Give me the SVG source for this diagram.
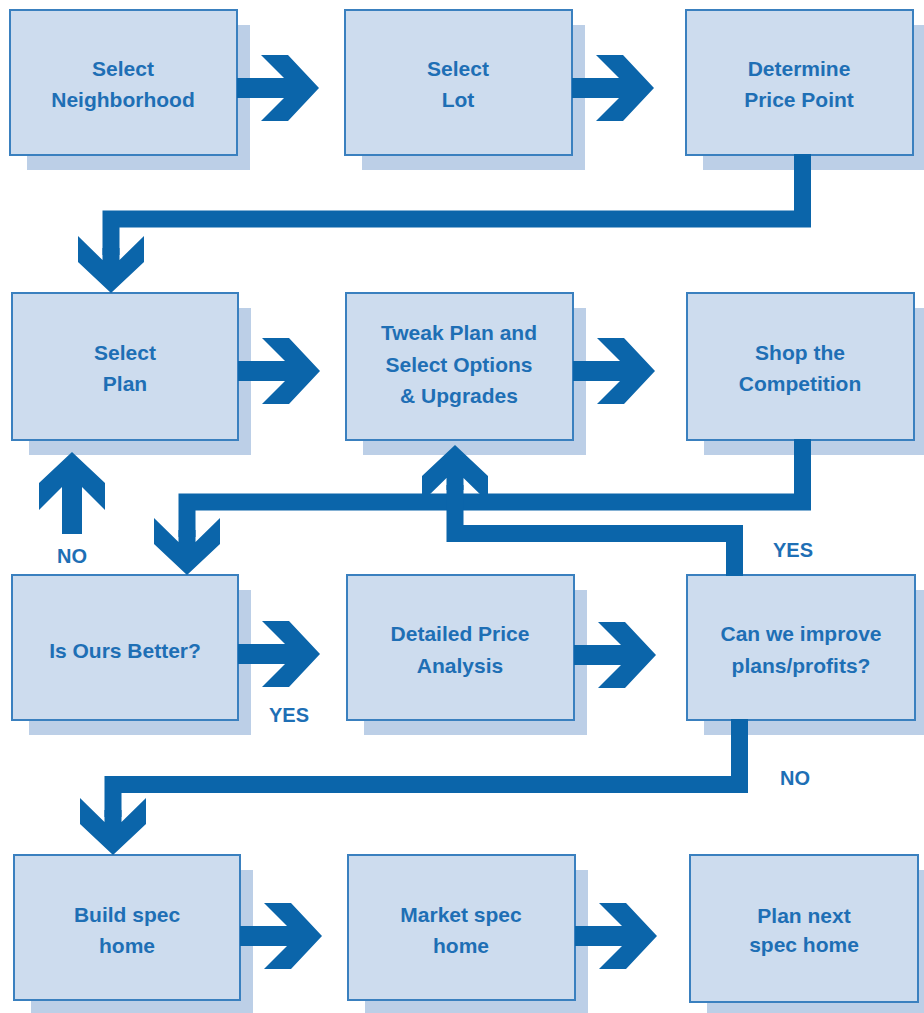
<svg xmlns="http://www.w3.org/2000/svg" xmlns:xlink="http://www.w3.org/1999/xlink" width="924" height="1013" viewBox="0 0 924 1013">
<defs>
<style>
.shadow{fill:#bccfe7}
.box{fill:#cddcee;stroke:#3a80bf;stroke-width:2}
.t{font-family:"Liberation Sans",Arial,sans-serif;font-weight:bold;font-size:21px;fill:#1e6fb5;text-anchor:middle}
.lbl{font-family:"Liberation Sans",Arial,sans-serif;font-weight:bold;font-size:20px;fill:#1e6fb5;text-anchor:middle}
.line{fill:none;stroke:#0b65aa;stroke-width:17;stroke-linejoin:miter;stroke-linecap:butt}
.ar{fill:#0b65aa}
</style>
<path id="arrowR" d="M0,0 L-31,33 L-58,33 L-35,10 L-82,10 L-82,-10 L-35,-10 L-58,-33 L-31,-33 Z"/>
<path id="head" d="M0,0 L-31,33 L-57,33 L-33,8.5 L-45,8.5 L-45,-8.5 L-33,-8.5 L-57,-33 L-31,-33 Z"/>
</defs>
<rect width="924" height="1013" fill="#ffffff"/>

<g id="n1"><rect class="shadow" x="27" y="25" width="223" height="145"/><rect class="box" x="10" y="10" width="227" height="145"/><text class="t" x="123" y="76">Select</text><text class="t" x="123" y="107">Neighborhood</text></g>
<g id="n2"><rect class="shadow" x="362" y="25" width="223" height="145"/><rect class="box" x="345" y="10" width="227" height="145"/><text class="t" x="458" y="76">Select</text><text class="t" x="458" y="107">Lot</text></g>
<g id="n3"><rect class="shadow" x="703" y="25" width="223" height="145"/><rect class="box" x="686" y="10" width="227" height="145"/><text class="t" x="799" y="76">Determine</text><text class="t" x="799" y="107">Price Point</text></g>

<g id="n4"><rect class="shadow" x="29" y="308" width="222" height="147"/><rect class="box" x="12" y="293" width="226" height="147"/><text class="t" x="125" y="360">Select</text><text class="t" x="125" y="391">Plan</text></g>
<g id="n5"><rect class="shadow" x="363" y="308" width="223" height="147"/><rect class="box" x="346" y="293" width="227" height="147"/><text class="t" x="459" y="340">Tweak Plan and</text><text class="t" x="459" y="372">Select Options</text><text class="t" x="459" y="403">&amp; Upgrades</text></g>
<g id="n6"><rect class="shadow" x="704" y="308" width="223" height="147"/><rect class="box" x="687" y="293" width="227" height="147"/><text class="t" x="800" y="360">Shop the</text><text class="t" x="800" y="391">Competition</text></g>

<g id="n7"><rect class="shadow" x="29" y="590" width="222" height="145"/><rect class="box" x="12" y="575" width="226" height="145"/><text class="t" x="125" y="658">Is Ours Better?</text></g>
<g id="n8"><rect class="shadow" x="364" y="590" width="223" height="145"/><rect class="box" x="347" y="575" width="227" height="145"/><text class="t" x="460" y="641">Detailed Price</text><text class="t" x="460" y="673">Analysis</text></g>
<g id="n9"><rect class="shadow" x="704" y="590" width="224" height="145"/><rect class="box" x="687" y="575" width="228" height="145"/><text class="t" x="801" y="641">Can we improve</text><text class="t" x="801" y="673">plans/profits?</text></g>

<g id="n10"><rect class="shadow" x="31" y="870" width="222" height="145"/><rect class="box" x="14" y="855" width="226" height="145"/><text class="t" x="127" y="922">Build spec</text><text class="t" x="127" y="953">home</text></g>
<g id="n11"><rect class="shadow" x="365" y="870" width="223" height="145"/><rect class="box" x="348" y="855" width="227" height="145"/><text class="t" x="461" y="922">Market spec</text><text class="t" x="461" y="953">home</text></g>
<g id="n12"><rect class="shadow" x="707" y="870" width="224" height="147"/><rect class="box" x="690" y="855" width="228" height="147"/><text class="t" x="804" y="923">Plan next</text><text class="t" x="804" y="952">spec home</text></g>

<g id="connectors">
<use href="#arrowR" class="ar" transform="translate(319,88)"/>
<use href="#arrowR" class="ar" transform="translate(654,88)"/>
<use href="#arrowR" class="ar" transform="translate(320,371)"/>
<use href="#arrowR" class="ar" transform="translate(655,371)"/>
<use href="#arrowR" class="ar" transform="translate(320,654)"/>
<use href="#arrowR" class="ar" transform="translate(656,655)"/>
<use href="#arrowR" class="ar" transform="translate(322,936)"/>
<use href="#arrowR" class="ar" transform="translate(657,936)"/>

<polyline class="line" points="802.5,154 802.5,219 111,219 111,255"/>
<use href="#head" class="ar" transform="translate(111,293) rotate(90)"/>

<polyline class="line" points="802.5,439 802.5,502 187,502 187,537"/>
<use href="#head" class="ar" transform="translate(187,575) rotate(90)"/>

<polyline class="line" points="734.5,576 734.5,533.5 455,533.5 455,485"/>
<use href="#head" class="ar" transform="translate(455,445) rotate(-90)"/>

<polyline class="line" points="739.5,719 739.5,784.5 113,784.5 113,817"/>
<use href="#head" class="ar" transform="translate(113,855) rotate(90)"/>

<use href="#arrowR" class="ar" transform="translate(72,452) rotate(-90)"/>
</g>

<g id="labels">
<text class="lbl" x="72" y="563">NO</text>
<text class="lbl" x="289" y="722">YES</text>
<text class="lbl" x="793" y="557">YES</text>
<text class="lbl" x="795" y="785">NO</text>
</g>
</svg>
